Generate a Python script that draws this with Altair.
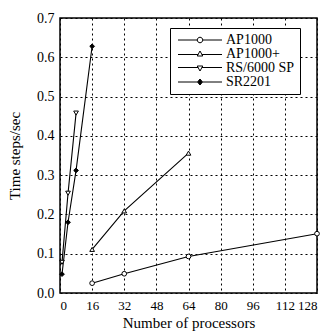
import altair as alt
import pandas as pd

# ---- data ----
series_names = ["AP1000", "AP1000+", "RS/6000 SP", "SR2201"]

ap1000_procs = [16, 32, 64, 128]
ap1000_vals = [0.025, 0.049, 0.093, 0.151]

ap1000p_procs = [16, 32, 64]
ap1000p_vals = [0.111, 0.209, 0.356]

rs_procs = [1, 4, 8]
rs_vals = [0.078, 0.254, 0.458]

sr_procs = [1, 4, 8, 16]
sr_vals = [0.048, 0.180, 0.312, 0.628]

x_ticks = [0, 16, 32, 48, 64, 80, 96, 112, 128]
y_ticks = [0.0, 0.1, 0.2, 0.3, 0.4, 0.5, 0.6, 0.7]

marker_shapes = ["circle", "triangle-up", "triangle-down", "diamond"]
marker_fills = ["white", "white", "white", "black"]
marker_strokes = ["black", "black", "black", "black"]

# legend symbols: a short line with the marker in its middle (custom SVG paths)
legend_paths = [
    "M-8.8,0L-1.1,0M1.1,0L8.8,0M1.1,0A1.1,1.1,0,1,1,-1.1,0A1.1,1.1,0,1,1,1.1,0Z",
    "M-8.8,0.2L-0.75,0.2M0.75,0.2L8.8,0.2M0,-1.2L1.1,0.8L-1.1,0.8Z",
    "M-8.8,-0.2L-0.75,-0.2M0.75,-0.2L8.8,-0.2M0,1.2L1.1,-0.8L-1.1,-0.8Z",
    "M-8.8,0L-1,0M1,0L8.8,0M0,-1.2L1,0L0,1.2L-1,0Z",
]

rows = []
for name, procs, vals in [
    (series_names[0], ap1000_procs, ap1000_vals),
    (series_names[1], ap1000p_procs, ap1000p_vals),
    (series_names[2], rs_procs, rs_vals),
    (series_names[3], sr_procs, sr_vals),
]:
    for p, v in zip(procs, vals):
        rows.append({"series": name, "procs": p, "value": v})
df = pd.DataFrame(rows)

FONT = "Liberation Serif"

x_enc = alt.X(
    "procs:Q",
    scale=alt.Scale(domain=[0, 128], nice=False, zero=False),
    axis=alt.Axis(values=x_ticks, title="Number of processors", titlePadding=3, labelFontSize=13),
)
y_enc = alt.Y(
    "value:Q",
    scale=alt.Scale(domain=[0, 0.7], nice=False),
    axis=alt.Axis(values=y_ticks, format=".1f", title="Time steps/sec", titlePadding=14),
)

base = alt.Chart(df)

lines = base.mark_line(color="black", strokeWidth=1.1).encode(
    x=x_enc, y=y_enc, detail="series:N", order="procs:Q"
)

points = base.mark_point(filled=True, stroke="black", strokeWidth=1, size=22, opacity=1).encode(
    x=x_enc,
    y=y_enc,
    shape=alt.Shape("series:N", scale=alt.Scale(domain=series_names, range=marker_shapes), legend=None),
    fill=alt.Fill("series:N", scale=alt.Scale(domain=series_names, range=marker_fills), legend=None),
)

legend_def = alt.Legend(
    title=None,
    orient="none",
    legendX=110,
    legendY=10,
    fillColor="white",
    strokeColor="black",
    padding=5,
    symbolSize=25,
    symbolOffset=18,
    labelOffset=19,
    symbolStrokeWidth=1,
    labelFont=FONT,
    labelFontSize=14,
    labelColor="black",
    rowPadding=0,
)

legend_layer = base.transform_filter("datum.value < 0").mark_point(
    filled=True, strokeWidth=1, size=25, opacity=1
).encode(
    x=x_enc,
    y=y_enc,
    shape=alt.Shape("series:N", scale=alt.Scale(domain=series_names, range=legend_paths), legend=legend_def),
    fill=alt.Fill("series:N", scale=alt.Scale(domain=series_names, range=marker_fills), legend=legend_def),
    stroke=alt.Stroke("series:N", scale=alt.Scale(domain=series_names, range=marker_strokes), legend=legend_def),
)

chart = (
    alt.layer(lines, points, legend_layer)
    .resolve_scale(shape="independent", fill="independent", stroke="independent")
    .properties(
        width=257,
        height=275,
        autosize=alt.AutoSizeParams(type="none"),
        padding={"left": 60, "top": 18, "right": 12, "bottom": 39},
        background="white",
    )
    .configure_view(stroke="black", strokeWidth=1.5)
    .configure_axis(
        grid=True,
        gridColor="black",
        gridDash=[2, 3],
        gridWidth=1,
        gridOpacity=1,
        ticks=False,
        domain=False,
        labelFont=FONT,
        labelFontSize=14,
        labelColor="black",
        labelPadding=6,
        titleFont=FONT,
        titleFontSize=15,
        titleFontWeight="normal",
        titleColor="black",
    )
)

chart.save("out.html", embed_options={"renderer": "svg", "actions": False})
